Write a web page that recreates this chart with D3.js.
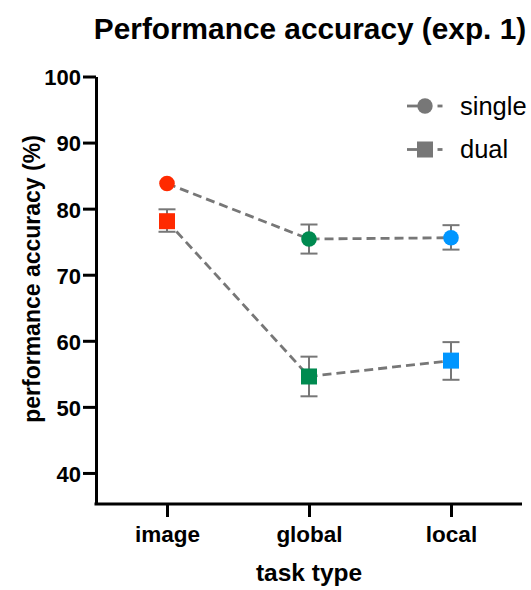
<!DOCTYPE html>
<html>
<head>
<meta charset="utf-8">
<script src="https://cdn.jsdelivr.net/npm/d3@7"></script>
<style>
  html, body { margin: 0; padding: 0; background: #fff; }
  svg { display: block; font-family: "Liberation Sans", Arial, sans-serif; }
</style>
</head>
<body>
<svg id="chart" width="531" height="590"></svg>
<script>
// Task types on the x axis and the colour used for each
const categories = ["image", "global", "local"];
const categoryColors = ["#ff2a00", "#008a50", "#0096ff"];

// Mean accuracy (%) and error bar bounds per condition
const singleMean = [83.8, 75.4, 75.6];
const singleLow  = [83.4, 73.2, 73.8];
const singleHigh = [84.3, 77.6, 77.5];

const dualMean = [78.1, 54.6, 57.0];
const dualLow  = [76.5, 51.6, 54.1];
const dualHigh = [79.9, 57.6, 59.8];

const yTicks = [40, 50, 60, 70, 80, 90, 100];
const legendLabels = ["single", "dual"];

const svg = d3.select("#chart");
const plotLeft = 96, plotRight = 522, plotTop = 76.5, plotBottom = 504;

const x = d3.scalePoint().domain(categories).range([plotLeft, plotRight]).padding(0.5);
const y = d3.scaleLinear().domain([35.3, 100]).range([plotBottom, plotTop]);

const gray = "#777777";
const circleR = 7.8;
const sq = 16;

// Axes
const yAxis = d3.axisLeft(y).tickValues(yTicks).tickSize(13).tickPadding(2).tickSizeOuter(0);
const gy = svg.append("g").attr("transform", `translate(${plotLeft},0)`).call(yAxis);
gy.select(".domain").attr("stroke", "#000").attr("stroke-width", 3);
gy.selectAll(".tick line").attr("stroke", "#000").attr("stroke-width", 3);
gy.selectAll(".tick text").attr("fill", "#000").attr("font-size", 22).attr("font-weight", "bold")
  .attr("dy", "0.38em");

const xAxis = d3.axisBottom(x).tickSize(13).tickPadding(9).tickSizeOuter(0);
const gx = svg.append("g").attr("transform", `translate(0,${plotBottom})`).call(xAxis);
gx.select(".domain").attr("stroke", "#000").attr("stroke-width", 3)
  .attr("d", `M${plotLeft - 1.5},0H${plotRight}`);
gx.selectAll(".tick line").attr("stroke", "#000").attr("stroke-width", 3);
gx.selectAll(".tick text").attr("fill", "#000").attr("font-size", 22.5).attr("font-weight", "bold");

// Titles
svg.append("text").attr("x", 310).attr("y", 39).attr("text-anchor", "middle")
  .attr("font-size", 29.8).attr("font-weight", "bold").text("Performance accuracy (exp. 1)");
svg.append("text").attr("x", 309).attr("y", 581).attr("text-anchor", "middle")
  .attr("font-size", 24.5).attr("font-weight", "bold").text("task type");
svg.append("text").attr("transform", "translate(40,279) rotate(-90)").attr("text-anchor", "middle")
  .attr("font-size", 23).attr("font-weight", "bold").text("performance accuracy (%)");

// Dashed connecting lines
const line = d3.line().x((d, i) => x(categories[i])).y(d => y(d));
[singleMean, dualMean].forEach(series => {
  svg.append("path").datum(series).attr("d", line)
    .attr("fill", "none").attr("stroke", gray).attr("stroke-width", 2.8)
    .attr("stroke-dasharray", "9,5");
});

// Error bars; bars shorter than the symbol stay hidden behind it
function errorBars(mean, lo, hi, halfSize) {
  const g = svg.append("g").attr("stroke", gray).attr("stroke-width", 2);
  categories.forEach((c, i) => {
    if (y(lo[i]) - y(mean[i]) <= halfSize && y(mean[i]) - y(hi[i]) <= halfSize) return;
    const cx = x(c);
    g.append("line").attr("x1", cx).attr("x2", cx).attr("y1", y(lo[i])).attr("y2", y(hi[i]));
    g.append("line").attr("x1", cx - 8.5).attr("x2", cx + 8.5).attr("y1", y(lo[i])).attr("y2", y(lo[i]));
    g.append("line").attr("x1", cx - 8.5).attr("x2", cx + 8.5).attr("y1", y(hi[i])).attr("y2", y(hi[i]));
  });
}
errorBars(singleMean, singleLow, singleHigh, circleR);
errorBars(dualMean, dualLow, dualHigh, sq / 2);

// Markers
svg.append("g").selectAll("circle").data(singleMean).join("circle")
  .attr("cx", (d, i) => x(categories[i])).attr("cy", d => y(d)).attr("r", circleR)
  .attr("fill", (d, i) => categoryColors[i]);
svg.append("g").selectAll("rect").data(dualMean).join("rect")
  .attr("x", (d, i) => x(categories[i]) - sq / 2).attr("y", d => y(d) - sq / 2)
  .attr("width", sq).attr("height", sq)
  .attr("fill", (d, i) => categoryColors[i]);

// Legend
const legend = svg.append("g");
legendLabels.forEach((label, i) => {
  const ly = 106 + i * 43.5;
  const g = legend.append("g");
  g.append("line").attr("x1", 407).attr("x2", 420).attr("y1", ly).attr("y2", ly)
    .attr("stroke", gray).attr("stroke-width", 2.8);
  g.append("line").attr("x1", 437.5).attr("x2", 442.5).attr("y1", ly).attr("y2", ly)
    .attr("stroke", gray).attr("stroke-width", 2.8);
  if (i === 0) {
    g.append("circle").attr("cx", 425).attr("cy", ly).attr("r", 7.7).attr("fill", gray);
  } else {
    g.append("rect").attr("x", 417).attr("y", ly - 8).attr("width", 16).attr("height", 16).attr("fill", gray);
  }
  g.append("text").attr("x", 460).attr("y", ly + 8.5).attr("font-size", 25.5).attr("fill", "#000").text(label);
});
</script>
</body>
</html>
